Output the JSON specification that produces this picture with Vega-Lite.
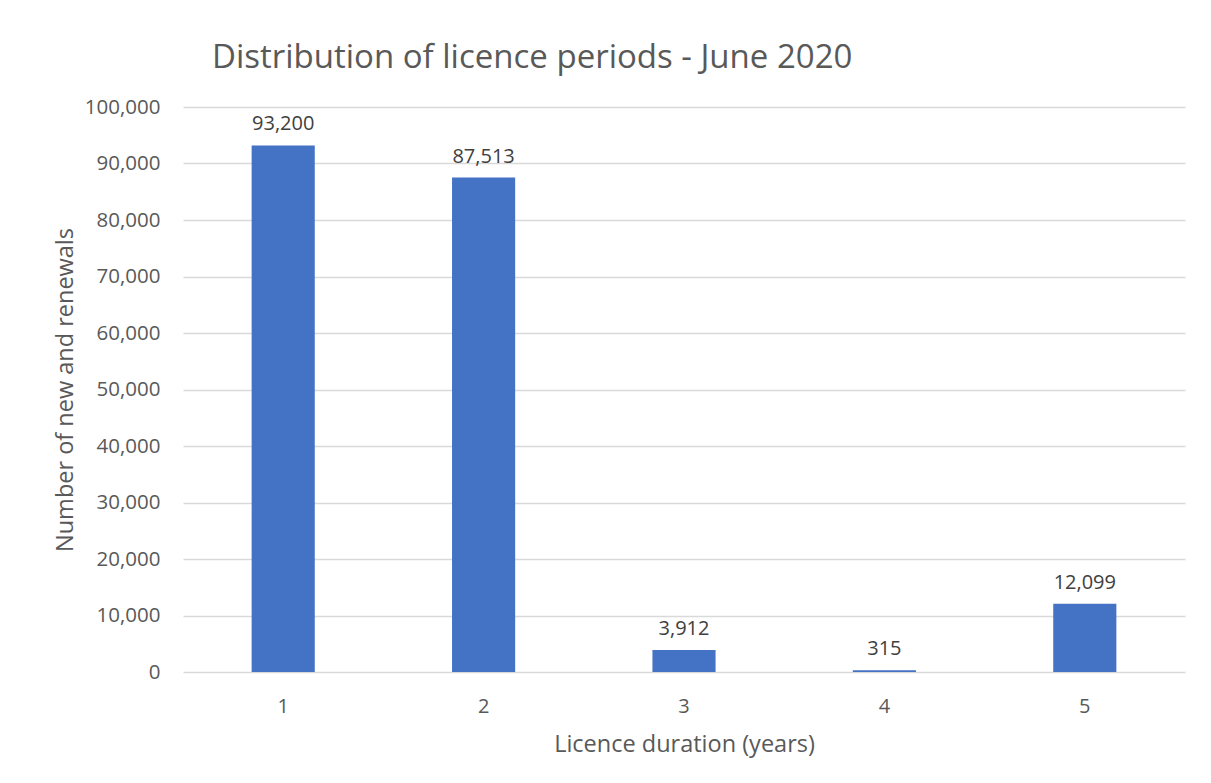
{
  "$schema": "https://vega.github.io/schema/vega-lite/v6.json",
  "width": 1002,
  "height": 565,
  "autosize": {"type": "none"},
  "padding": {"left": 183, "top": 107, "right": 26, "bottom": 111},
  "background": "white",
  "title": {
    "text": "Distribution of licence periods - June 2020",
    "font": "Open Sans",
    "fontSize": 33,
    "fontWeight": "normal",
    "color": "#595959",
    "anchor": "start",
    "frame": "group",
    "offset": 22,
    "dx": 29
  },
  "config": {
    "view": {"stroke": null},
    "font": "Open Sans"
  },
  "data": {
    "values": [
      {"duration": "1", "count": 93200},
      {"duration": "2", "count": 87513},
      {"duration": "3", "count": 3912},
      {"duration": "4", "count": 315},
      {"duration": "5", "count": 12099}
    ]
  },
  "encoding": {
    "x": {
      "field": "duration",
      "type": "ordinal",
      "scale": {"paddingInner": 0.685, "paddingOuter": 0.3425},
      "axis": {
        "title": "Licence duration (years)",
        "labelAngle": 0,
        "labelFont": "Open Sans",
        "labelFontSize": 20,
        "labelColor": "#595959",
        "labelPadding": 24,
        "ticks": false,
        "domain": false,
        "titleFont": "Open Sans",
        "titleFontSize": 23.5,
        "titleFontWeight": "normal",
        "titleColor": "#595959",
        "titlePadding": 16
      }
    },
    "y": {
      "field": "count",
      "type": "quantitative",
      "scale": {"domain": [0, 100000], "nice": false},
      "axis": {
        "title": "Number of new and renewals",
        "values": [0, 10000, 20000, 30000, 40000, 50000, 60000, 70000, 80000, 90000, 100000],
        "format": ",.0f",
        "labelFont": "Open Sans",
        "labelFontSize": 20.5,
        "labelColor": "#595959",
        "labelPadding": 23,
        "ticks": false,
        "domain": false,
        "gridColor": "#d9d9d9",
        "gridWidth": 1.5,
        "titleFont": "Open Sans",
        "titleFontSize": 23.5,
        "titleFontWeight": "normal",
        "titleColor": "#595959",
        "titlePadding": 7
      }
    }
  },
  "layer": [
    {"mark": {"type": "bar", "color": "#4472C4"}},
    {
      "mark": {
        "type": "text",
        "baseline": "bottom",
        "dy": -11,
        "font": "Open Sans",
        "fontSize": 20,
        "color": "#404040"
      },
      "encoding": {"text": {"field": "count", "type": "quantitative", "format": ",.0f"}}
    }
  ]
}
